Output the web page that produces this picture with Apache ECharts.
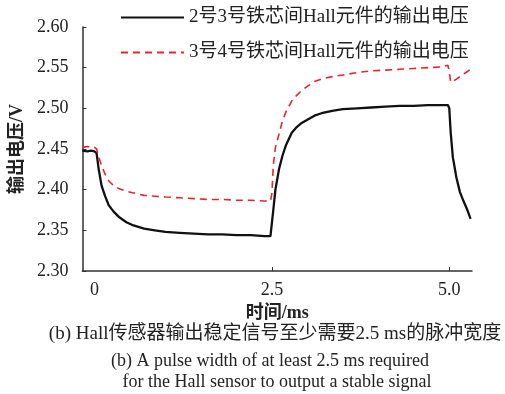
<!DOCTYPE html>
<html>
<head>
<meta charset="utf-8">
<script src="https://cdn.jsdelivr.net/npm/echarts@6/dist/echarts.min.js"></script>
<style>
  html, body { margin: 0; padding: 0; background: #fff; }
  #chart { width: 505px; height: 394px; }
</style>
</head>
<body>
<div id="chart"></div>
<script>
// time axis (ms)
var times = [-0.17, -0.1, -0.05, 0, 0.03, 0.06, 0.1, 0.15, 0.2, 0.27, 0.35, 0.45, 0.55, 0.7, 0.85,
  1.0, 1.2, 1.4, 1.6, 1.8, 2.0, 2.2, 2.4, 2.48, 2.5, 2.52, 2.55, 2.6, 2.65, 2.7, 2.78, 2.85, 2.92,
  3.0, 3.1, 3.2, 3.35, 3.5, 3.7, 3.9, 4.1, 4.3, 4.5, 4.7, 4.9, 4.98, 5.0, 5.02, 5.05, 5.1, 5.15,
  5.2, 5.25, 5.3];

// 2号3号铁芯间
var volts23 = [2.448, 2.447, 2.448, 2.447, 2.445, 2.425, 2.405, 2.392, 2.381, 2.373, 2.366, 2.360, 2.356, 2.352, 2.350,
  2.348, 2.347, 2.346, 2.345, 2.345, 2.344, 2.344, 2.343, 2.343, 2.344, 2.375, 2.400, 2.425, 2.442, 2.455, 2.470, 2.477, 2.482,
  2.486, 2.491, 2.494, 2.497, 2.499, 2.500, 2.501, 2.502, 2.503, 2.503, 2.504, 2.504, 2.504, 2.500, 2.470, 2.440, 2.415, 2.397,
  2.386, 2.376, 2.364];

// 3号4号铁芯间
var volts34 = [2.452, 2.453, 2.452, 2.452, 2.450, 2.440, 2.430, 2.419, 2.411, 2.405, 2.401, 2.398, 2.396, 2.393, 2.392,
  2.391, 2.390, 2.389, 2.388, 2.388, 2.387, 2.387, 2.386, 2.386, 2.395, 2.430, 2.452, 2.468, 2.485, 2.496, 2.509, 2.516, 2.522,
  2.527, 2.533, 2.536, 2.539, 2.541, 2.544, 2.546, 2.547, 2.548, 2.549, 2.550, 2.551, 2.553, 2.545, 2.532, 2.533, 2.536, 2.539,
  2.542, 2.545, 2.548];

var seriesNames = ['2号3号铁芯间Hall元件的输出电压', '3号4号铁芯间Hall元件的输出电压'];
var xLabelValues = [0, 2.5, 5.0];
var xTickValues = [2.5, 5.0];

function pairs(ys) {
  return times.map(function (t, i) { return [t, ys[i]]; });
}

var serif = '"Liberation Serif", "Noto Sans CJK SC", serif';
var hei = '"Liberation Serif", "Noto Sans CJK SC"';

var option = {
  backgroundColor: '#fff',
  animation: false,
  grid: { left: 79, right: 33, top: 27, bottom: 123 },
  legend: {
    orient: 'vertical',
    left: 115,
    top: 3,
    itemWidth: 63,
    itemHeight: 10,
    itemGap: 16,
    itemStyle: { opacity: 0 },
    textStyle: { fontFamily: serif, fontSize: 19, color: '#222' },
    data: seriesNames
  },
  xAxis: {
    type: 'value',
    min: -0.17,
    max: 5.32,
    name: '时间/ms',
    nameLocation: 'middle',
    nameGap: 32,
    nameTextStyle: { fontFamily: hei, fontSize: 18, fontWeight: 'bold', color: '#222' },
    axisLine: { onZero: false, lineStyle: { color: '#333', width: 1.5 } },
    axisTick: { show: true, inside: true, length: 4, customValues: xTickValues, lineStyle: { color: '#333' } },
    axisLabel: {
      customValues: xLabelValues,
      margin: 10,
      fontFamily: serif, fontSize: 18, color: '#222',
      formatter: function (v) { return v === 0 ? '0' : v.toFixed(1); }
    },
    splitLine: { show: false }
  },
  yAxis: {
    type: 'value',
    min: 2.30,
    max: 2.60,
    interval: 0.05,
    name: '输出电压/V',
    nameLocation: 'middle',
    nameGap: 53,
    nameTextStyle: { fontFamily: hei, fontSize: 18, fontWeight: 'bold', color: '#222' },
    axisLine: { show: true, onZero: false, lineStyle: { color: '#333', width: 1.5 } },
    axisTick: { show: true, inside: true, length: 4, lineStyle: { color: '#333' } },
    axisLabel: {
      margin: 14,
      fontFamily: serif, fontSize: 18, color: '#222',
      formatter: function (v) { return v.toFixed(2); }
    },
    splitLine: { show: false }
  },
  series: [{
    name: seriesNames[0],
    type: 'line',
    symbol: 'none',
    data: pairs(volts23),
    itemStyle: { color: '#111' },
    lineStyle: { color: '#111', width: 2.3 }
  }, {
    name: seriesNames[1],
    type: 'line',
    symbol: 'none',
    data: pairs(volts34),
    itemStyle: { color: '#e8262a' },
    lineStyle: { color: '#e8262a', width: 1.6, type: [7, 5] }
  }],
  graphic: [{
    type: 'text', top: 325,
    style: { text: '(b) Hall传感器输出稳定信号至少需要2.5 ms的脉冲宽度', font: '19px ' + serif, fill: '#222', textAlign: 'center' },
    x: 275
  }, {
    type: 'text', top: 352,
    style: { text: '(b) A pulse width of at least 2.5 ms required', font: '18px ' + serif, fill: '#222', textAlign: 'center' },
    x: 270
  }, {
    type: 'text', top: 373,
    style: { text: 'for the Hall sensor to output a stable signal', font: '18px ' + serif, fill: '#222', textAlign: 'center' },
    x: 277
  }]
};

var myChart = echarts.init(document.getElementById('chart'));
myChart.setOption(option);
</script>
</body>
</html>
